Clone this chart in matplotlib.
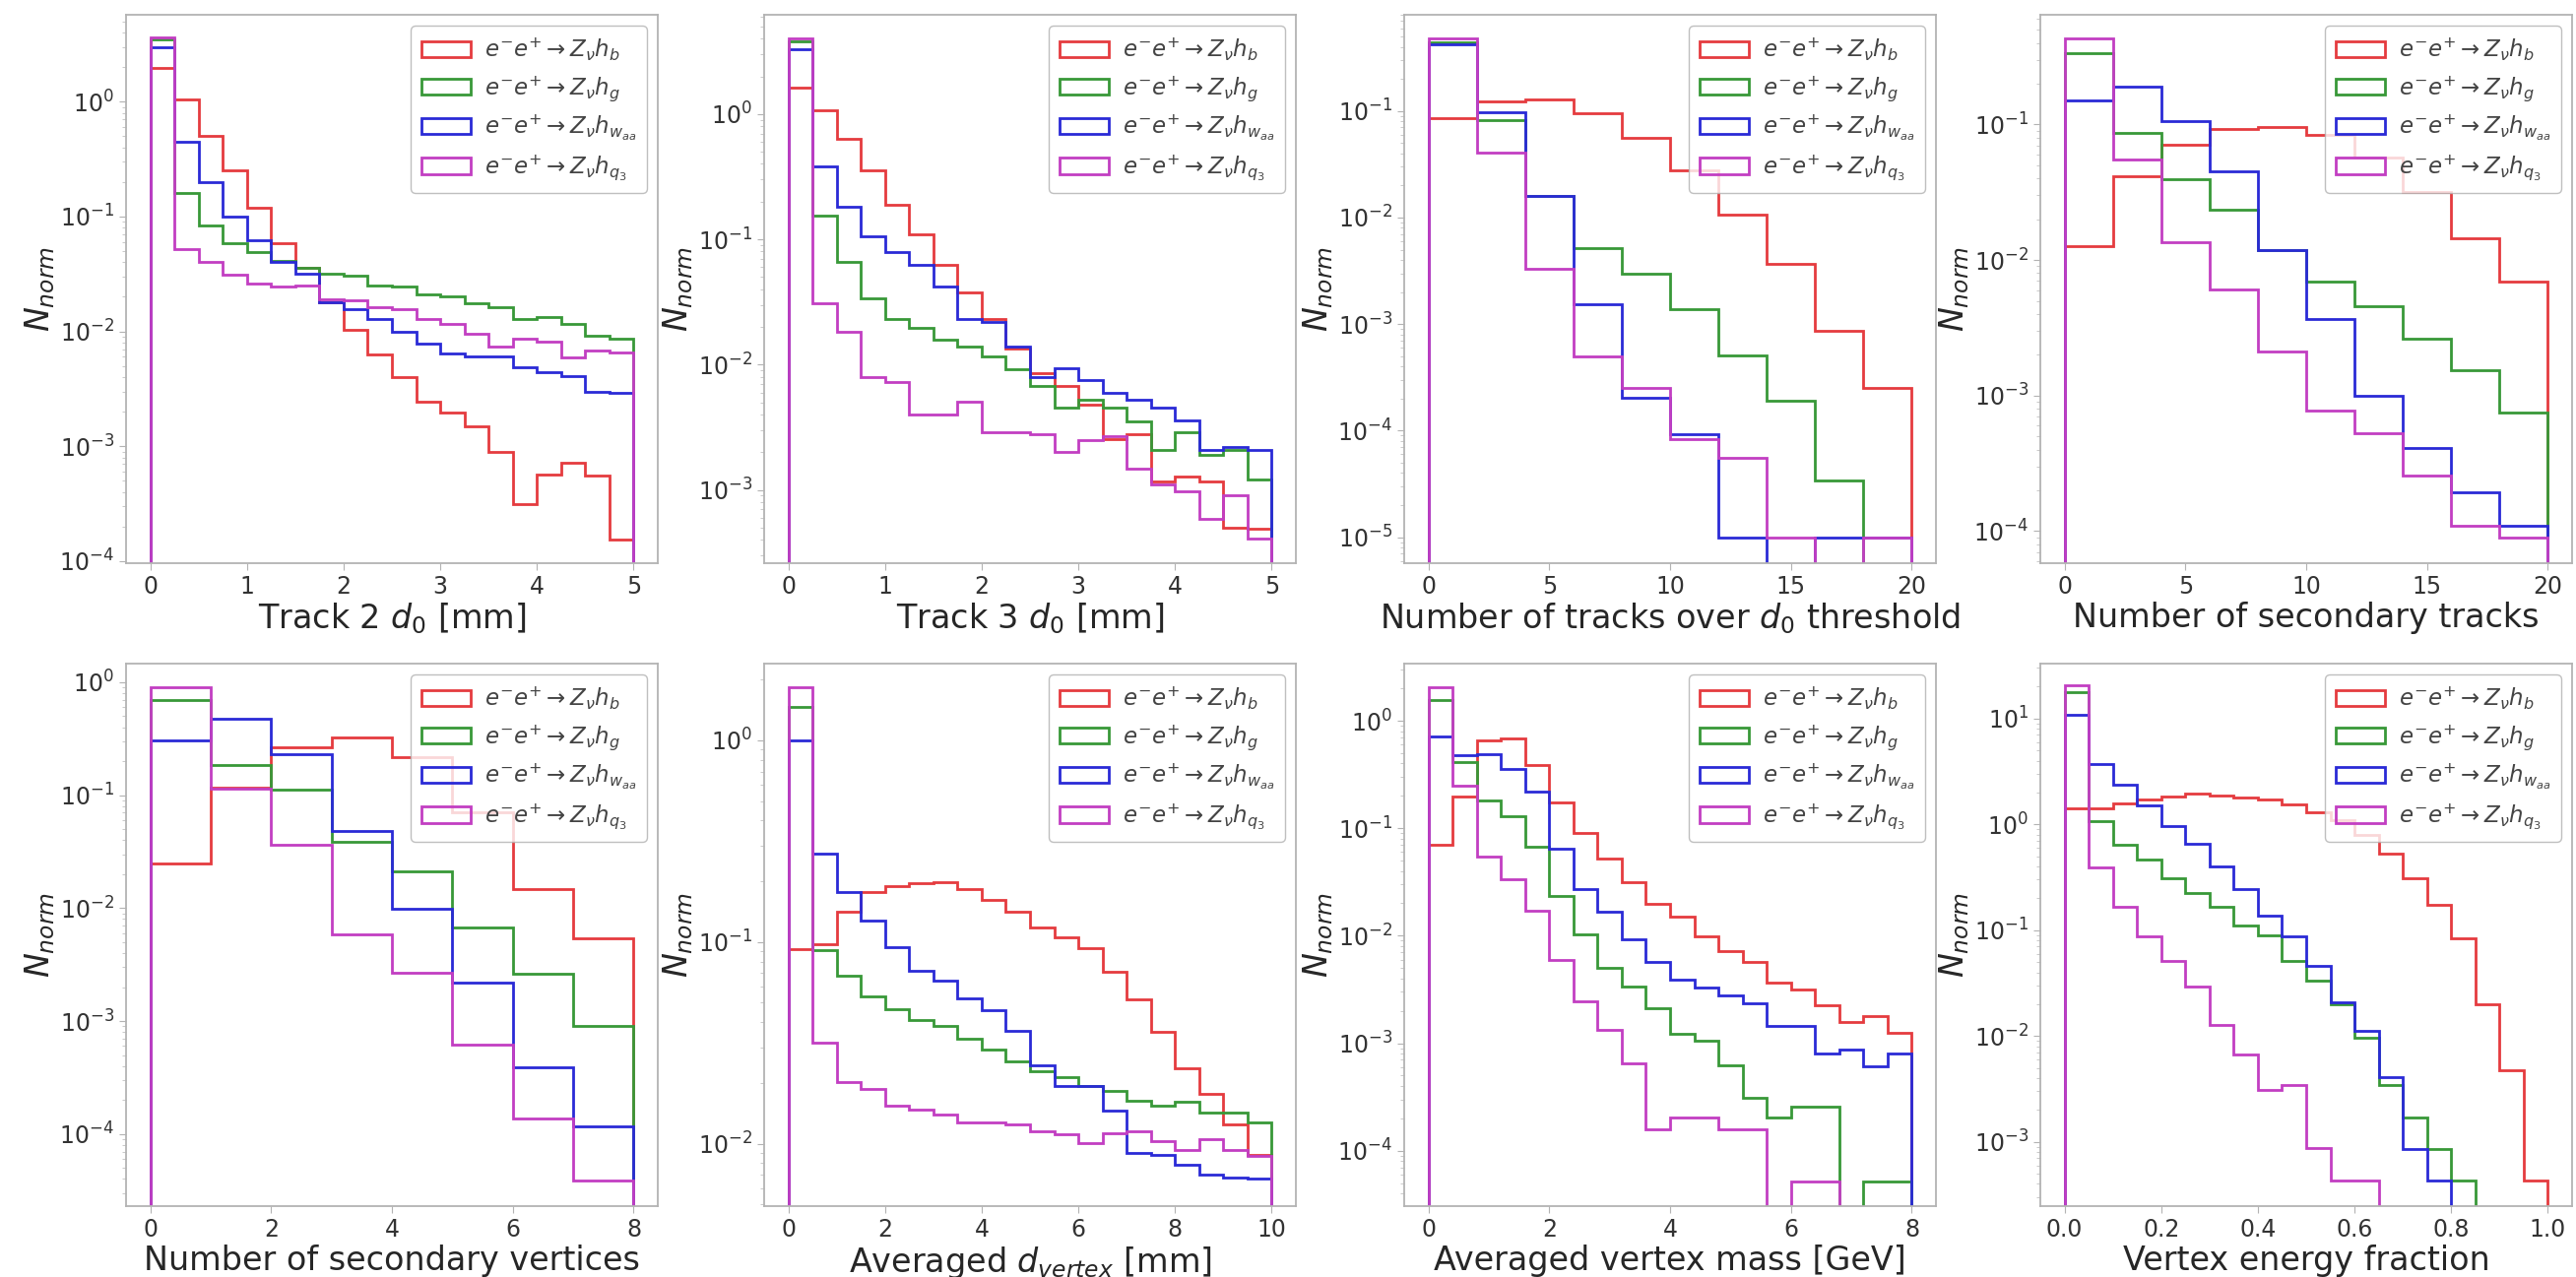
# -*- coding: utf-8 -*-
"""
    Normalised distributions of the flavour-tagging input variables
    for the four Higgs decay samples (step histograms, log scale)
"""

import numpy as np
import matplotlib
matplotlib.use("Agg")
import matplotlib.pyplot as plt

#========== DATA ==========#

SAMPLES = [r"$e^{-}e^{+}\rightarrow Z_{\nu}h_{b}$",
           r"$e^{-}e^{+}\rightarrow Z_{\nu}h_{g}$",
           r"$e^{-}e^{+}\rightarrow Z_{\nu}h_{w_{aa}}$",
           r"$e^{-}e^{+}\rightarrow Z_{\nu}h_{q_{3}}$"]
COLORS = ["#e53b3f", "#389838", "#2a2ad6", "#c23ec2"]

# Track 2 d0 [mm], 20 bins over [0, 5]
track2_edges = np.linspace(0, 5, 21)
track2_hb = [1.95, 1.04, 0.50, 0.254, 0.12, 0.058, 0.036, 0.0178, 0.0103, 0.0063,
             0.0040, 0.00246, 0.00196, 0.00149, 0.00089, 0.000316, 0.000563, 0.00072, 0.00056, 0.000155]
track2_hg = [3.5, 0.16, 0.083, 0.059, 0.049, 0.041, 0.036, 0.032, 0.0305, 0.0252,
             0.0248, 0.021, 0.020, 0.0177, 0.0163, 0.0127, 0.0133, 0.0117, 0.0091, 0.0087]
track2_hw = [3.0, 0.45, 0.198, 0.10, 0.062, 0.040, 0.032, 0.018, 0.0157, 0.0127,
             0.010, 0.0079, 0.0064, 0.0060, 0.0060, 0.0049, 0.0044, 0.0041, 0.0030, 0.0029]
track2_hq = [3.6, 0.052, 0.040, 0.031, 0.026, 0.0247, 0.025, 0.019, 0.0188, 0.0163,
             0.0157, 0.0127, 0.0117, 0.0095, 0.0074, 0.0087, 0.0081, 0.0059, 0.0068, 0.0065]

# Track 3 d0 [mm], 20 bins over [0, 5]
track3_edges = np.linspace(0, 5, 21)
track3_hb = [1.62, 1.08, 0.63, 0.357, 0.19, 0.11, 0.062, 0.0377, 0.023, 0.0135,
             0.0085, 0.0068, 0.0048, 0.00255, 0.0028, 0.00117, 0.00127, 0.00117, 0.0005, 0.00049]
track3_hg = [3.8, 0.155, 0.066, 0.034, 0.023, 0.0197, 0.0159, 0.014, 0.0116, 0.0092,
             0.0068, 0.0045, 0.0052, 0.0045, 0.0035, 0.0021, 0.0029, 0.0019, 0.0021, 0.00122]
track3_hw = [3.3, 0.385, 0.183, 0.105, 0.079, 0.062, 0.042, 0.023, 0.022, 0.0139,
             0.008, 0.0093, 0.0075, 0.0059, 0.0052, 0.0045, 0.0036, 0.0021, 0.0022, 0.0021]
track3_hq = [4.0, 0.031, 0.0183, 0.0079, 0.0073, 0.0040, 0.0040, 0.0051, 0.0029, 0.0029,
             0.0028, 0.0020, 0.0025, 0.0027, 0.00148, 0.0011, 0.00098, 0.00059, 0.0009, 0.00041]

# Number of tracks over d0 threshold, bins of 2 over [0, 20]
ntrk_edges = np.linspace(0, 20, 11)
ntrk_hb = [0.086, 0.123, 0.128, 0.096, 0.056, 0.028, 0.0107, 0.00366, 0.00086, 0.00025]
ntrk_hg = [0.44, 0.082, 0.0158, 0.0052, 0.00295, 0.00137, 0.00051, 0.00019, 3.4e-5, 0]
ntrk_hw = [0.42, 0.098, 0.0158, 0.00155, 0.000204, 9.2e-5, 1e-5, 0, 1e-5, 1e-5]
ntrk_hq = [0.48, 0.041, 0.0033, 0.0005, 0.00025, 8.3e-5, 5.5e-5, 1e-5, 0, 1e-5]

# Number of secondary tracks, bins of 2 over [0, 20]
nsec_edges = np.linspace(0, 20, 11)
nsec_hb = [0.0126, 0.0416, 0.071, 0.092, 0.0966, 0.084, 0.057, 0.032, 0.0145, 0.0069]
nsec_hg = [0.335, 0.086, 0.0395, 0.0237, 0.0119, 0.0069, 0.00454, 0.00263, 0.00153, 0.00075]
nsec_hw = [0.15, 0.19, 0.106, 0.0455, 0.0119, 0.0037, 0.001, 0.00041, 0.000192, 0.00011]
nsec_hq = [0.43, 0.055, 0.0135, 0.0061, 0.0021, 0.00078, 0.00053, 0.000255, 0.00011, 0.000089]

# Number of secondary vertices, unit bins over [0, 8]
nvtx_edges = np.linspace(0, 8, 9)
nvtx_hb = [0.0249, 0.116, 0.264, 0.326, 0.217, 0.070, 0.0148, 0.0054]
nvtx_hg = [0.70, 0.184, 0.112, 0.039, 0.021, 0.0068, 0.0026, 0.00091]
nvtx_hw = [0.307, 0.47, 0.23, 0.048, 0.0098, 0.0022, 0.00039, 0.000117]
nvtx_hq = [0.90, 0.113, 0.036, 0.0059, 0.00266, 0.00062, 0.000136, 3.9e-5]

# Averaged d_vertex [mm], 20 bins over [0, 10]
dvtx_edges = np.linspace(0, 10, 21)
dvtx_hb = [0.092, 0.097, 0.142, 0.177, 0.19, 0.196, 0.198, 0.183, 0.161, 0.142,
           0.118, 0.106, 0.093, 0.071, 0.052, 0.036, 0.0237, 0.0176, 0.0125, 0.0088]
dvtx_hg = [1.47, 0.091, 0.0677, 0.0535, 0.0464, 0.0412, 0.0385, 0.0333, 0.0294, 0.0257,
           0.0229, 0.0213, 0.0194, 0.0183, 0.0164, 0.0154, 0.0161, 0.0142, 0.0142, 0.0128]
dvtx_hw = [1.0, 0.273, 0.177, 0.128, 0.094, 0.072, 0.0645, 0.0527, 0.0458, 0.0361,
           0.0245, 0.0194, 0.0194, 0.0146, 0.009, 0.0088, 0.0079, 0.0070, 0.0068, 0.0067]
dvtx_hq = [1.83, 0.0318, 0.0203, 0.0187, 0.0154, 0.0147, 0.014, 0.0128, 0.0128, 0.0124,
           0.0115, 0.0111, 0.0101, 0.0112, 0.0115, 0.0103, 0.0093, 0.0105, 0.0093, 0.0087]

# Averaged vertex mass [GeV], 20 bins over [0, 8]
mvtx_edges = np.linspace(0, 8, 21)
mvtx_hb = [0.070, 0.199, 0.66, 0.69, 0.387, 0.174, 0.0895, 0.0526, 0.0314, 0.0198,
           0.0152, 0.0099, 0.00714, 0.00572, 0.00367, 0.00313, 0.00225, 0.00158, 0.0018, 0.00124]
mvtx_hg = [1.56, 0.41, 0.182, 0.128, 0.067, 0.0236, 0.0102, 0.005, 0.00336, 0.00212,
           0.00121, 0.00106, 0.00062, 0.000311, 0.000205, 0.000256, 0.000256, 0, 5.2e-5, 5.2e-5]
mvtx_hw = [0.72, 0.48, 0.49, 0.354, 0.221, 0.0644, 0.027, 0.0166, 0.0093, 0.00572,
           0.00394, 0.0033, 0.00281, 0.00236, 0.00145, 0.00145, 0.0008, 0.00087, 0.00061, 0.0008]
mvtx_hq = [2.05, 0.248, 0.055, 0.0337, 0.0169, 0.006, 0.00246, 0.00132, 0.00065, 0.000157,
           0.000205, 0.000205, 0.000157, 0.000157, 0, 5.2e-5, 5.2e-5, 0, 0, 0]

# Vertex energy fraction, 20 bins over [0, 1]
efrac_edges = np.linspace(0, 1, 21)
efrac_hb = [1.41, 1.41, 1.57, 1.72, 1.85, 1.97, 1.88, 1.80, 1.72, 1.54,
            1.31, 1.09, 0.80, 0.532, 0.31, 0.172, 0.084, 0.0198, 0.0047, 0.00043]
efrac_hg = [17.6, 1.07, 0.64, 0.465, 0.31, 0.226, 0.168, 0.11, 0.0893, 0.051,
            0.0332, 0.0198, 0.0096, 0.00342, 0.0017, 0.00085, 0.00043, 0, 0, 0]
efrac_hw = [10.9, 3.7, 2.35, 1.5, 0.956, 0.649, 0.399, 0.247, 0.138, 0.088,
            0.0458, 0.0207, 0.0112, 0.0041, 0.00085, 0.00043, 0, 0, 0, 0]
efrac_hq = [20.5, 0.388, 0.168, 0.0878, 0.051, 0.0292, 0.0126, 0.0067, 0.00307, 0.00342,
            0.00087, 0.00043, 0.00043, 0, 0, 0, 0, 0, 0, 0]

#======== FUNCTIONS =========#


def draw_panel(fig, rect, edges, series, xlabel, xlim, ylim, xticks, xfmt="{:g}"):
    """
        Un histogramme normalisé par échantillon, en escalier
    """
    axes = fig.add_axes(rect)
    centers = 0.5 * (edges[:-1] + edges[1:])
    for values, color, label in zip(series, COLORS, SAMPLES):
        axes.hist(centers, bins=edges, weights=values, histtype="step",
                  color=color, linewidth=2.0, label=label, log=True)

    axes.set_xlim(*xlim)
    axes.set_ylim(*ylim)
    axes.set_xticks(xticks)
    axes.set_xticklabels([xfmt.format(t) for t in xticks])
    axes.set_xlabel(xlabel, fontsize=24, color="#262626", labelpad=2)
    axes.set_ylabel(r"$N_{norm}$", fontsize=24, color="#262626", labelpad=2)

    for spine in axes.spines.values():
        spine.set_color("#b3b3b3")
        spine.set_linewidth(1.3)
    axes.tick_params(axis="both", which="major", labelsize=17, colors="#b3b3b3",
                     labelcolor="#333333", length=5)
    axes.tick_params(axis="y", which="minor", colors="#c0c0c0", length=3)

    axes.legend(loc="upper right", fontsize=16.5, handlelength=2.2, handletextpad=0.6,
                edgecolor="#b0b0b0", borderpad=0.45, labelspacing=0.45,
                labelcolor="#444444")
    return axes


def main():
    """
        Grille 2 x 4 des variables d'entrée
    """
    fig = plt.figure(figsize=(26.16, 12.97), dpi=100)
    W, H = 2616.0, 1297.0

    lefts = [128, 776, 1426, 2072]
    width = 540
    rows = [(15, 572), (674, 1225)]

    def rect(col, row):
        top, bottom = rows[row]
        return [lefts[col] / W, 1 - bottom / H, width / W, (bottom - top) / H]

    draw_panel(fig, rect(0, 0), track2_edges, [track2_hb, track2_hg, track2_hw, track2_hq],
               r"Track 2 $d_0$ [mm]", (-0.25, 5.25), (9.6e-5, 5.7), [0, 1, 2, 3, 4, 5])
    draw_panel(fig, rect(1, 0), track3_edges, [track3_hb, track3_hg, track3_hw, track3_hq],
               r"Track 3 $d_0$ [mm]", (-0.25, 5.25), (2.6e-4, 6.2), [0, 1, 2, 3, 4, 5])
    draw_panel(fig, rect(2, 0), ntrk_edges, [ntrk_hb, ntrk_hg, ntrk_hw, ntrk_hq],
               r"Number of tracks over $d_0$ threshold", (-1, 21), (5.7e-6, 0.80),
               [0, 5, 10, 15, 20])
    draw_panel(fig, rect(3, 0), nsec_edges, [nsec_hb, nsec_hg, nsec_hw, nsec_hq],
               "Number of secondary tracks", (-1, 21), (5.8e-5, 0.645), [0, 5, 10, 15, 20])

    draw_panel(fig, rect(0, 1), nvtx_edges, [nvtx_hb, nvtx_hg, nvtx_hw, nvtx_hq],
               "Number of secondary vertices", (-0.4, 8.4), (2.3e-5, 1.46), [0, 2, 4, 6, 8])
    draw_panel(fig, rect(1, 1), dvtx_edges, [dvtx_hb, dvtx_hg, dvtx_hw, dvtx_hq],
               r"Averaged $d_{vertex}$ [mm]", (-0.5, 10.5), (4.9e-3, 2.4), [0, 2, 4, 6, 8, 10])
    draw_panel(fig, rect(2, 1), mvtx_edges, [mvtx_hb, mvtx_hg, mvtx_hw, mvtx_hq],
               "Averaged vertex mass [GeV]", (-0.4, 8.4), (3.05e-5, 3.4), [0, 2, 4, 6, 8])
    draw_panel(fig, rect(3, 1), efrac_edges, [efrac_hb, efrac_hg, efrac_hw, efrac_hq],
               "Vertex energy fraction", (-0.05, 1.05), (2.47e-4, 33),
               [0.0, 0.2, 0.4, 0.6, 0.8, 1.0], xfmt="{:.1f}")

    fig.savefig("out.png", dpi=100, facecolor="white")


#=========   EXEC   =========#
if __name__ == "__main__":
    main()
